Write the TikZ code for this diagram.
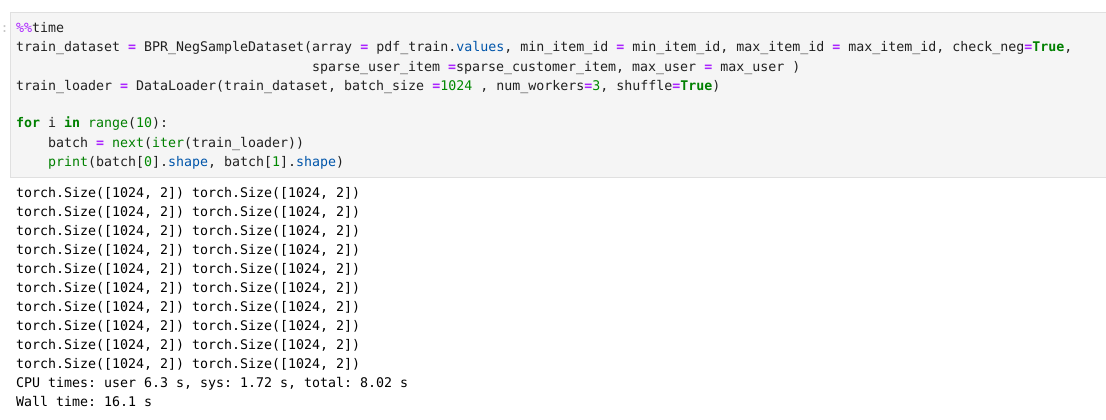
\documentclass[tikz,border=0pt]{standalone}
\usepackage{fontspec}
\setmonofont[WordSpace={1,0,0}]{DejaVu Sans Mono}
\usepackage{tikz}
\usepackage{xcolor}

\definecolor{cellbg}{HTML}{F5F5F5}
\definecolor{cellrule}{HTML}{E0E0E0}
\definecolor{cmtext}{HTML}{212121}
\definecolor{cmop}{HTML}{AA22FF}
\definecolor{cmkw}{HTML}{008000}
\definecolor{cmnum}{HTML}{008800}
\definecolor{cmprop}{HTML}{0055AA}
\newcommand{\cop}[1]{\textcolor{cmop}{\bfseries #1}}
\newcommand{\cmagic}[1]{\textcolor{cmop}{#1}}
\newcommand{\ckw}[1]{\textcolor{cmkw}{\bfseries #1}}
\newcommand{\cbi}[1]{\textcolor{cmkw}{#1}}
\newcommand{\cnum}[1]{\textcolor{cmnum}{#1}}
\newcommand{\cprop}[1]{\textcolor{cmprop}{#1}}

\tikzset{
  codeline/.style={anchor=base west, inner sep=0pt, text=cmtext,
    font=\ttfamily\fontsize{13.29}{19}\selectfont\frenchspacing},
  outline/.style={codeline, text=black}
}

\begin{document}
\begin{tikzpicture}[x=1pt, y=-1pt]
     \useasboundingbox (0,0) rectangle (1106,420);
     % input cell
     \draw [fill=cellbg, draw=cellrule, line width=1pt] (10.5,12.5) rectangle (1112,177.5);
     \node [codeline, text=gray!45] (prompt) at (0.5,33) {:};
     \node [codeline] (l1) at (16,33) {\cmagic{\%\%}time};
     \node [codeline] (l2) at (16,52) {train\_dataset \cop{=} BPR\_NegSampleDataset(array \cop{=} pdf\_train.\cprop{values}, min\_item\_id \cop{=} min\_item\_id, max\_item\_id \cop{=} max\_item\_id, check\_neg\cop{=}\ckw{True},};
     \node [codeline] (l3) at (312,71) {sparse\_user\_item \cop{=}sparse\_customer\_item, max\_user \cop{=} max\_user )};
     \node [codeline] (l4) at (16,90) {train\_loader \cop{=} DataLoader(train\_dataset, batch\_size \cop{=}\cnum{1024} , num\_workers\cop{=}\cnum{3}, shuffle\cop{=}\ckw{True})};
     \node [codeline] (l5) at (16,128) {\ckw{for} i \ckw{in} \cbi{range}(\cnum{10}):};
     \node [codeline] (l6) at (48,147) {batch \cop{=} \cbi{next}(\cbi{iter}(train\_loader))};
     \node [codeline] (l7) at (48,166) {\cbi{print}(batch[\cnum{0}].\cprop{shape}, batch[\cnum{1}].\cprop{shape})};
     % output
     \foreach \i in {0,...,9}
       \node [outline] (out\i) at (16,{197+19*\i}) {torch.Size([1024, 2]) torch.Size([1024, 2])};
     \node [outline] (cpu) at (16,387) {CPU times: user 6.3 s, sys: 1.72 s, total: 8.02 s};
     \node [outline] (wall) at (16,406) {Wall time: 16.1 s};
\end{tikzpicture}
\end{document}
